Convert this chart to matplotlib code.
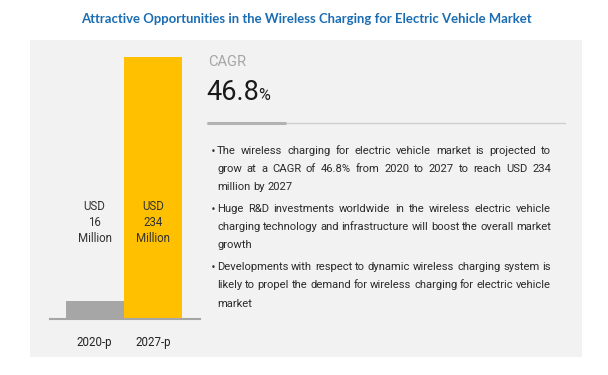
import matplotlib
matplotlib.use("Agg")
from matplotlib import pyplot as plt
from matplotlib.patches import Rectangle
from matplotlib.lines import Line2D

years = ["2020-p", "2027-p"]
market_size = [16, 234]  # USD million
cagr = 46.8
bullets = [
    ["The wireless charging for electric vehicle market is projected to",
     "grow at a CAGR of 46.8% from 2020 to 2027 to reach USD 234",
     "million by 2027"],
    ["Huge R&D investments worldwide in the wireless electric vehicle",
     "charging technology and infrastructure will boost the overall market",
     "growth"],
    ["Developments with respect to dynamic wireless charging system is",
     "likely to propel the demand for wireless charging for electric vehicle",
     "market"],
]
title = "Attractive Opportunities in the Wireless Charging for Electric Vehicle Market"

W, H = 608, 375
fig = plt.figure(figsize=(W / 100, H / 100), dpi=100)
fig.patch.set_facecolor("white")


def fx(px):
    return px / W


def fy(py):
    # py measured from the top of the picture
    return 1 - py / H


# grey panel
fig.patches.append(Rectangle((fx(30), fy(357)), fx(552), 317 / H, transform=fig.transFigure,
                             facecolor="#f2f2f2", edgecolor="none", zorder=-5))

fig.text(fx(306), fy(19), title, ha="center", va="center", color="#1b6db3",
         fontsize=9.45, fontweight="bold", family="Lato")

# bars
ax = fig.add_axes([fx(50), fy(319), fx(150), 262 / H])
ax.set_zorder(2)
ax.patch.set_alpha(0)
ax.bar([0, 1], market_size, width=0.99, color=["#a6a6a6", "#ffc000"], zorder=2)
ax.set_xlim(-0.76, 1.80)
ax.set_ylim(0, max(market_size))
for s in ["top", "left", "right"]:
    ax.spines[s].set_visible(False)
ax.spines["bottom"].set_color("#a6a6a6")
ax.spines["bottom"].set_linewidth(1.5)
ax.set_yticks([])
ax.set_xticks([0, 1])
ax.set_xticklabels(years, family="Roboto", fontsize=8.3, color="#222222")
ax.tick_params(axis="x", length=0, pad=12)
for i, v in enumerate(market_size):
    ax.text(i, 86, f"USD\n{v}\nMillion", ha="center", va="center", family="Roboto",
            fontsize=8.3, color="#333333", linespacing=1.3)

# CAGR block
fig.text(fx(208), fy(62), "CAGR", ha="left", va="center", family="Roboto",
         fontsize=10.5, color="#a6a6a6")
t = fig.text(fx(206), fy(92), f"{cagr}", ha="left", va="center", family="Roboto",
             fontsize=19.5, color="#1a1a1a")
renderer = fig.canvas.get_renderer()
bb = t.get_window_extent(renderer)
fig.text(bb.x1 / W - fx(1), fy(96), "%", ha="left", va="center", family="Roboto",
         fontsize=11.5, color="#1a1a1a")
fig.lines.append(Line2D([fx(207), fx(565)], [fy(123), fy(123)], transform=fig.transFigure,
                        color="#cfcfcf", linewidth=1))
fig.lines.append(Line2D([fx(207), fx(286)], [fy(123), fy(123)], transform=fig.transFigure,
                        color="#b3b3b3", linewidth=2.2, solid_capstyle="butt"))

# bullet text, justified like the original
x0, x1 = 217, 551
line_y = [[151, 168.5, 186.5], [209, 227, 245.5], [267, 285.5, 304]]


def word_widths(words, size):
    out = []
    for w in words:
        tt = fig.text(0, 0, w, family="Roboto", fontsize=size)
        out.append(tt.get_window_extent(renderer).width)
        tt.remove()
    return out


def space_width(size):
    a = word_widths(["a a", "aa"], size)
    return a[0] - a[1]


# largest size at which every full line still fits with near-normal spacing
fs = 8.6
while fs > 6:
    sp = space_width(fs)
    ok = True
    for para in bullets:
        for line in para[:-1]:
            words = line.split(" ")
            if sum(word_widths(words, fs)) + 0.85 * sp * (len(words) - 1) > x1 - x0:
                ok = False
    if ok:
        break
    fs -= 0.1
space_w = space_width(fs)

for para, ys in zip(bullets, line_y):
    fig.text(fx(213), fy(ys[0]), "\u2022", ha="center", va="center", family="DejaVu Sans",
             fontsize=6, color="#333333")
    for k, (line, y) in enumerate(zip(para, ys)):
        words = line.split(" ")
        widths = word_widths(words, fs)
        last = k == len(para) - 1
        if last or len(words) < 2:
            gap = space_w
        else:
            gap = (x1 - x0 - sum(widths)) / (len(words) - 1)
        x = x0
        for w, wd in zip(words, widths):
            fig.text(fx(x), fy(y), w, ha="left", va="center", family="Roboto",
                     fontsize=fs, color="#2b2b2b")
            x += wd + gap

fig.savefig("out.png", dpi=100)
